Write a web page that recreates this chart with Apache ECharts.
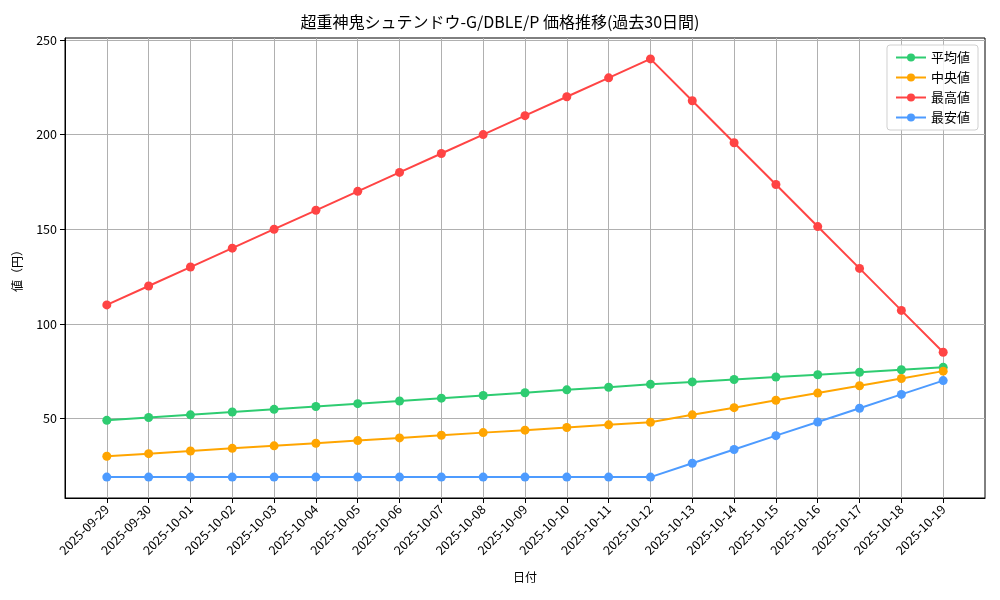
<!DOCTYPE html>
<html><head><meta charset="utf-8">
<script src="https://cdn.jsdelivr.net/npm/echarts@6/dist/echarts.min.js"></script>
<style>html,body{margin:0;padding:0;background:#fff}#c{width:1000px;height:600px}</style>
</head><body><div id="c"></div>
<script>
const dates = ['2025-09-29','2025-09-30','2025-10-01','2025-10-02','2025-10-03','2025-10-04','2025-10-05','2025-10-06','2025-10-07','2025-10-08','2025-10-09','2025-10-10','2025-10-11','2025-10-12','2025-10-13','2025-10-14','2025-10-15','2025-10-16','2025-10-17','2025-10-18','2025-10-19'];
const avgVals = [49.0,50.5,51.9,53.4,54.8,56.3,57.8,59.2,60.7,62.1,63.6,65.1,66.5,68.0,69.3,70.6,71.9,73.1,74.4,75.7,77.0];
const medVals = [30.0,31.4,32.8,34.2,35.5,36.9,38.3,39.7,41.1,42.5,43.8,45.2,46.6,48.0,51.9,55.7,59.6,63.4,67.3,71.1,75.0];
const maxVals = [110,120,130,140,150,160,170,180,190,200,210,220,230,240,217.9,195.7,173.6,151.4,129.3,107.1,85.0];
const minVals = [19,19,19,19,19,19,19,19,19,19,19,19,19,19,26.3,33.6,40.9,48.1,55.4,62.7,70.0];
const yTicks = [50,100,150,200,250];
const seriesNames = ['平均値','中央値','最高値','最安値'];
const colors = ['#2ecc71','#ffa500','#ff4444','#4d9bff'];
const allVals = [avgVals, medVals, maxVals, minVals];
const xIdx = dates.map((d,i)=>i);
const FONT = '"Noto Sans CJK JP", sans-serif';
const chart = echarts.init(document.getElementById('c'), null, {renderer:'canvas'});
chart.setOption({
  animation:false,
  backgroundColor:'#fff',
  title:{text:'超重神鬼シュテンドウ-G/DBLE/P 価格推移(過去30日間)', left:'center', top:9,
    textStyle:{fontFamily:FONT, fontSize:16, fontWeight:'normal', color:'#000'}},
  grid:{left:65, right:15, top:38, bottom:102, show:true, borderColor:'#000', borderWidth:1, backgroundColor:'transparent'},
  legend:{orient:'vertical', right:22, top:45, data:seriesNames, itemWidth:30, itemHeight:10, itemGap:7,
    padding:[6,8,6,8], borderColor:'#d0d0d0', borderWidth:1, borderRadius:3, backgroundColor:'rgba(255,255,255,0.85)',
    textStyle:{fontFamily:FONT, fontSize:13, color:'#000'}},
  xAxis:{type:'value', min:-1, max:21, name:'日付', nameLocation:'middle', nameGap:73,
    nameTextStyle:{fontFamily:FONT, fontSize:12, color:'#000'},
    axisLine:{show:true, onZero:false, lineStyle:{color:'#000'}},
    axisTick:{show:true, customValues:xIdx, length:5, lineStyle:{color:'#000'}},
    axisLabel:{customValues:xIdx, rotate:45, fontFamily:FONT, fontSize:12.5, color:'#000', margin:9,
      formatter:v=>dates[v]||''},
    splitLine:{show:true, customValues:xIdx, lineStyle:{color:'#b0b0b0', width:1}}},
  yAxis:{type:'value', min:7.95, max:251.05, name:'値（円）', nameLocation:'middle', nameGap:42, nameRotate:90,
    nameTextStyle:{fontFamily:FONT, fontSize:12, color:'#000'},
    axisLine:{show:true, onZero:false, lineStyle:{color:'#000'}},
    axisTick:{show:true, customValues:yTicks, length:5, lineStyle:{color:'#000'}},
    axisLabel:{customValues:yTicks, fontFamily:FONT, fontSize:12.5, color:'#000', margin:8},
    splitLine:{show:true, customValues:yTicks, lineStyle:{color:'#b0b0b0', width:1}}},
  series: seriesNames.map((n,k)=>({
    name:n, type:'line', data:allVals[k].map((v,i)=>[i,v]), symbol:'circle', symbolSize:9,
    lineStyle:{width:2, color:colors[k]}, itemStyle:{color:colors[k]}, z:2+k
  }))
});
</script></body></html>
